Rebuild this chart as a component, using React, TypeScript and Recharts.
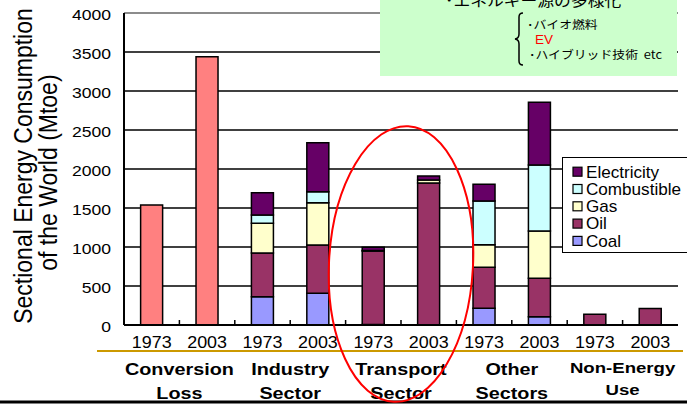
import React from 'react';
import { BarChart, Bar, XAxis, YAxis, CartesianGrid, Legend, ReferenceLine } from 'recharts';

// ---------- data ----------
const sectors = ['Conversion Loss', 'Industry Sector', 'Transport Sector', 'Other Sectors', 'Non-Energy Use'];
const sectorLabelLines = [
  ['Conversion', 'Loss'],
  ['Industry', 'Sector'],
  ['Transport', 'Sector'],
  ['Other', 'Sectors'],
  ['Non-Energy', 'Use'],
];
const years = ['1973', '2003'];
const yTicks = [0, 500, 1000, 1500, 2000, 2500, 3000, 3500, 4000];

// one value per bar: sector x year (1973, 2003)
const conversionLoss = [1540, 3440, null, null, null, null, null, null, null, null];
const coal = [null, null, 363, 406, 8, null, 214, 107, null, null];
const oil = [null, null, 560, 620, 940, 1820, 526, 491, 137, 210];
const gas = [null, null, 381, 542, 8, 40, 290, 607, null, null];
const combustible = [null, null, 106, 141, null, null, 560, 846, null, null];
const electricity = [null, null, 286, 628, 42, 50, 214, 804, null, null];

const boxTitle = '･エネルギー源の多様化';
const boxItems = ['･バイオ燃料', 'EV', '･ハイブリッド技術\u00a0\u00a0etc'];
const yTitle = ['Sectional Energy Consumption', 'of the World (Mtoe)'];

// ---------- series definitions ----------
const series = [
  { key: 'conv', name: 'Conversion Loss', color: '#FF8080', values: conversionLoss },
  { key: 'coal', name: 'Coal', color: '#9999FF', values: coal },
  { key: 'oil', name: 'Oil', color: '#993366', values: oil },
  { key: 'gas', name: 'Gas', color: '#FFFFCC', values: gas },
  { key: 'combustible', name: 'Combustible', color: '#CCFFFF', values: combustible },
  { key: 'electricity', name: 'Electricity', color: '#660066', values: electricity },
];
const legendOrder = ['electricity', 'combustible', 'gas', 'oil', 'coal'];

const data = sectors.flatMap((s, si) =>
  years.map((y, yi) => {
    const i = si * 2 + yi;
    const row: any = { id: `${s} ${y}`, sectorIndex: si, year: y };
    series.forEach((d) => {
      row[d.key] = d.values[i];
    });
    return row;
  })
);

// ---------- layout ----------
const W = 687;
const H = 404;
const PLOT_L = 124;
const PLOT_R = 678;
const PLOT_T = 13;
const PLOT_B = 325;
const Y_AXIS_W = 60;
const FONT = '"Liberation Sans", Arial, sans-serif';
const CJK = '"Noto Sans CJK JP", "Noto Sans", sans-serif';

function SText({ x, y, children, size, sx = 1, anchor = 'start', weight = 'normal', fill = '#000', family = FONT }: any) {
  return (
    <g transform={`translate(${x},${y}) scale(${sx},1)`}>
      <text x={0} y={0} textAnchor={anchor} fontSize={size} fontWeight={weight} fill={fill} fontFamily={family}>
        {children}
      </text>
    </g>
  );
}

const XTick = (props: any) => {
  const { x, y, payload } = props;
  const index = payload?.index ?? props.index;
  const row = data[index];
  const band = (PLOT_R - PLOT_L) / data.length;
  const lines = sectorLabelLines[row.sectorIndex];
  const isNonEnergy = row.sectorIndex === 4;
  return (
    <g>
      {index > 0 && (
        <line x1={x - band / 2} x2={x - band / 2} y1={y} y2={y - 5} stroke="#000" strokeWidth={1.5} />
      )}
      <SText x={x} y={y + 22.5} size={16} sx={1.12} anchor="middle">
        {row.year}
      </SText>
      {index % 2 === 0 && (
        <g>
          <SText x={x + band / 2} y={isNonEnergy ? 373 : 375} size={isNonEnergy ? 15.5 : 16.5} sx={1.2} anchor="middle" weight="bold">
            {lines[0]}
          </SText>
          <SText x={x + band / 2} y={isNonEnergy ? 395 : 399} size={isNonEnergy ? 15.5 : 16.5} sx={1.2} anchor="middle" weight="bold">
            {lines[1]}
          </SText>
        </g>
      )}
    </g>
  );
};

const YTick = (props: any) => {
  const { x, y, payload } = props;
  return (
    <SText x={x} y={y + 6.8} size={15} sx={1.17} anchor="end">
      {payload.value}
    </SText>
  );
};

const LegendBox = () => {
  const items = legendOrder.map((k) => series.find((s) => s.key === k)!);
  return (
    <div
      style={{
        width: 125,
        height: 96,
        background: '#fff',
        borderTop: '1.5px solid #000',
        borderLeft: '1.5px solid #000',
        borderBottom: '1.5px solid #000',
        boxSizing: 'border-box',
        overflow: 'hidden',
      }}
    >
      <svg width={125} height={96} style={{ display: 'block', marginTop: -1.5, marginLeft: -1.5 }}>
        {items.map((d, i) => {
          const cy = 14.7 + i * 17.3;
          return (
            <g key={d.key}>
              <rect x={11} y={cy - 4.5} width={9} height={9} fill={d.color} stroke="#000" strokeWidth={1.2} />
              <SText x={24} y={cy + 5.8} size={16} sx={1.07}>
                {d.name}
              </SText>
            </g>
          );
        })}
      </svg>
    </div>
  );
};

export default function App() {
  return (
    <div style={{ position: 'absolute', left: 0, top: 0, width: W, height: H, overflow: 'hidden', background: '#fff' }}>
      <BarChart
        width={W}
        height={H}
        data={data}
        margin={{ top: PLOT_T, right: W - PLOT_R, bottom: 0, left: PLOT_L - Y_AXIS_W }}
        barCategoryGap="30%"
      >
        <CartesianGrid horizontal vertical={false} stroke="#000" strokeWidth={1.5} />
        <XAxis
          dataKey="id"
          interval={0}
          height={H - PLOT_B}
          tickSize={0}
          tickMargin={0}
          tickLine={false}
          axisLine={{ stroke: '#000', strokeWidth: 2 }}
          tick={<XTick />}
        />
        <YAxis
          width={Y_AXIS_W}
          domain={[0, 4000]}
          ticks={yTicks}
          tickSize={0}
          tickMargin={13}
          tickLine={false}
          axisLine={{ stroke: '#000', strokeWidth: 2 }}
          tick={<YTick />}
        />
        <YAxis
          yAxisId="right"
          orientation="right"
          width={0}
          domain={[0, 4000]}
          tick={false}
          tickLine={false}
          axisLine={{ stroke: '#8c8c8c', strokeWidth: 2 }}
        />
        <ReferenceLine y={4000} stroke="#8c8c8c" strokeWidth={2} />
        {series.map((s) => (
          <Bar
            key={s.key}
            dataKey={s.key}
            name={s.name}
            stackId="a"
            fill={s.color}
            stroke="#000"
            strokeWidth={1.5}
            isAnimationActive={false}
          />
        ))}
        <Legend
          layout="horizontal"
          align="center"
          verticalAlign="middle"
          content={<LegendBox />}
          wrapperStyle={{ position: 'absolute', left: 562, top: 157, width: 125, height: 96 }}
        />
      </BarChart>
      <svg
        width={W}
        height={H}
        style={{ position: 'absolute', left: 0, top: 0, pointerEvents: 'none' }}
      >
        {/* y axis title */}
        <g transform="translate(31.6,166) scale(1.1,1) rotate(-90)">
          <text x={0} y={0} textAnchor="middle" fontSize={23} fontFamily={FONT} fill="#000">
            {yTitle[0]}
          </text>
        </g>
        <g transform="translate(57.4,172.6) scale(1.1,1) rotate(-90)">
          <text x={0} y={0} textAnchor="middle" fontSize={23} fontFamily={FONT} fill="#000">
            {yTitle[1]}
          </text>
        </g>
        {/* separator lines */}
        <line x1={97} x2={683} y1={351} y2={351} stroke="#CC9900" strokeWidth={2} />
        <line x1={0} x2={W} y1={402} y2={402} stroke="#000" strokeWidth={3} />
        {/* green annotation box */}
        <rect x={380} y={0} width={297} height={76} fill="#CCFFCC" />
        <SText x={445} y={5.5} size={15} sx={1.12} family={CJK}>
          {boxTitle}
        </SText>
        <path
          d="M 523 13 Q 519 13 519 17 L 519 34 Q 519 38.5 515 39 Q 519 39.5 519 44 L 519 61 Q 519 65 523 65"
          fill="none"
          stroke="#000"
          strokeWidth={1.5}
        />
        <SText x={527} y={28.5} size={11.5} sx={1.12} family={CJK}>
          {boxItems[0]}
        </SText>
        <SText x={535} y={44} size={13.5} fill="#FF0000">
          {boxItems[1]}
        </SText>
        <SText x={529} y={59} size={11.5} sx={1.12} family={CJK}>
          {boxItems[2]}
        </SText>
        {/* red ellipse highlight */}
        <ellipse cx={401} cy={264} rx={72} ry={138} transform="rotate(3 401 264)" fill="none" stroke="#FF0000" strokeWidth={2} />
      </svg>
    </div>
  );
}
